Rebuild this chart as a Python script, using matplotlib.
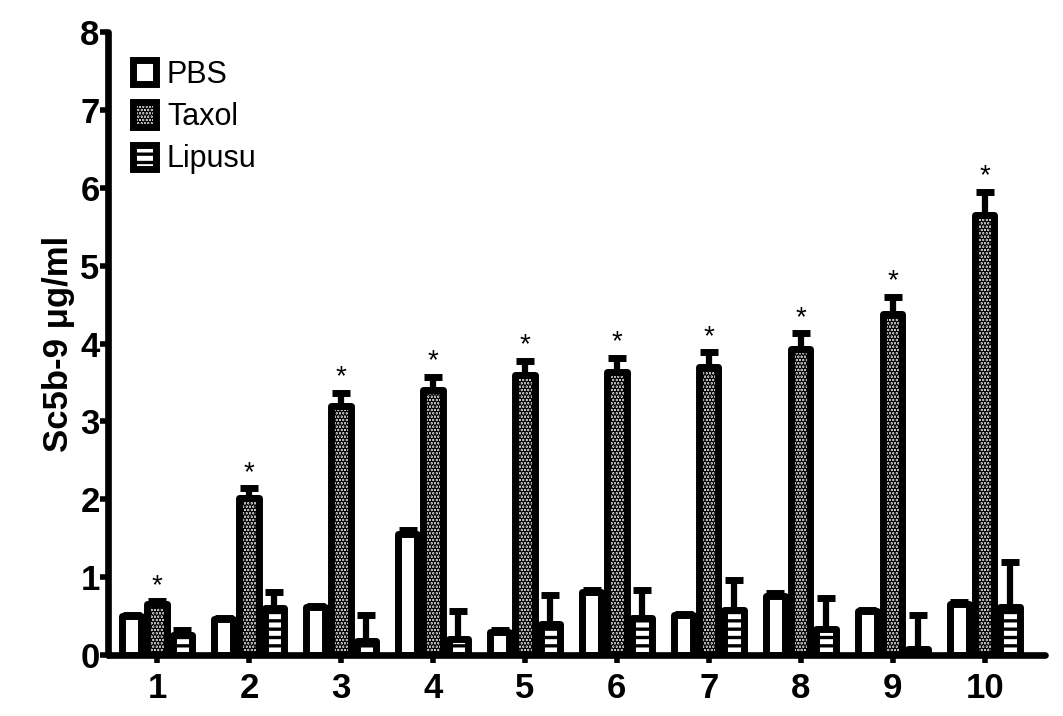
import numpy as np
import matplotlib.pyplot as plt
from matplotlib.patches import Patch

plt.rcParams['font.family'] = ['Liberation Sans', 'DejaVu Sans']
plt.rcParams['hatch.linewidth'] = 2.4
plt.rcParams['hatch.color'] = 'black'

# data
days = ['1', '2', '3', '4', '5', '6', '7', '8', '9', '10']
pbs = [0.50, 0.46, 0.61, 1.56, 0.30, 0.81, 0.51, 0.76, 0.56, 0.65]
pbs_err = [0.02, 0.02, 0.02, 0.05, 0.02, 0.03, 0.02, 0.03, 0.02, 0.03]
taxol = [0.66, 2.02, 3.20, 3.40, 3.60, 3.63, 3.70, 3.93, 4.38, 5.65]
taxol_err = [0.03, 0.12, 0.17, 0.17, 0.18, 0.19, 0.19, 0.20, 0.22, 0.30]
lipusu = [0.26, 0.60, 0.18, 0.20, 0.40, 0.48, 0.58, 0.33, 0.08, 0.62]
lipusu_err = [0.06, 0.21, 0.33, 0.36, 0.37, 0.36, 0.38, 0.40, 0.44, 0.57]

x = np.arange(1, len(days) + 1)
w = 0.21
off = 0.275

fig = plt.figure(figsize=(10.63, 7.16), dpi=100)
ax = fig.add_axes([0.1016, 0.0852, 0.881, 0.870])

groups = [
    (pbs, pbs_err, -off, 'white', None),
    (taxol, taxol_err, 0, '#d8d8d8', '.....'),
    (lipusu, lipusu_err, off, 'white', '--'),
]
for vals, err, dx, fc, hatch in groups:
    bars = ax.bar(x + dx, vals, width=w, facecolor=fc, edgecolor='black',
                  linewidth=5, hatch=hatch, zorder=3)
    for b in bars:
        b.set_joinstyle('round')
    ax.errorbar(x + dx, vals, yerr=[np.zeros(len(vals)), err], fmt='none',
                ecolor='black', elinewidth=4.5, capsize=6.5, capthick=5, zorder=2)

# significance stars above taxol bars
for xi, v, e in zip(x, taxol, taxol_err):
    ax.text(xi, v + e + 0.03, '*', ha='center', va='bottom', fontsize=20)

ax.set_xlim(0.467, 10.65)
ax.set_ylim(0, 8)
ax.set_yticks(range(0, 9))
ax.set_xticks(x)
ax.set_xticklabels(days)
for lab in ax.get_xticklabels() + ax.get_yticklabels():
    lab.set_fontweight('bold')
    lab.set_fontsize(25)
ax.tick_params(axis='both', width=4, length=6, direction='out')
ax.tick_params(axis='x', pad=6)
ax.tick_params(axis='y', pad=0)

for s in ['top', 'right']:
    ax.spines[s].set_visible(False)
for s in ['left', 'bottom']:
    ax.spines[s].set_linewidth(4.8)
    ax.spines[s].set_capstyle('round')

ax.set_ylabel('Sc5b-9 μg/ml', fontsize=25, fontweight='bold', labelpad=4)

handles = [Patch(facecolor='white', edgecolor='black', linewidth=5, label='PBS'),
           Patch(facecolor='#d8d8d8', edgecolor='black', linewidth=5, hatch='.....', label='Taxol'),
           Patch(facecolor='white', edgecolor='black', linewidth=5, hatch='--', label='Lipusu')]
ax.legend(handles=handles, loc='upper left', bbox_to_anchor=(0.014, 0.975), frameon=False,
          fontsize=22, handlelength=0.75, handleheight=0.85, handletextpad=0.35,
          labelspacing=0.4, borderaxespad=0)

fig.savefig('out.png', dpi=100)
